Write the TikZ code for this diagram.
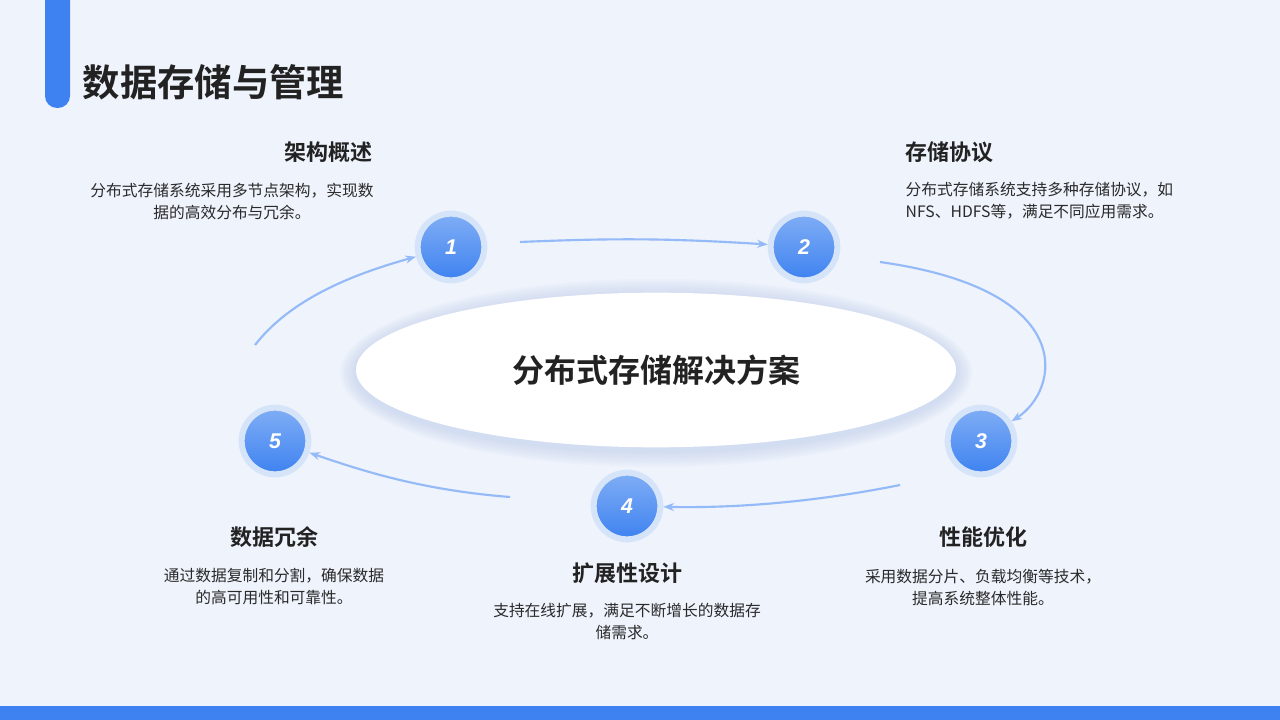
\documentclass[tikz,border=0pt]{standalone}
\usepackage{fontspec}
\setmainfont{Noto Sans CJK SC}
\newfontfamily\cjkb{Noto Sans CJK SC Bold}
\newfontfamily\numf{Liberation Sans}
\usetikzlibrary{arrows.meta,shapes.geometric}
\definecolor{bg}{HTML}{EEF3FC}
\definecolor{blu}{HTML}{3D82F0}
\definecolor{halo}{HTML}{D6E4FA}
\definecolor{tx}{HTML}{222222}
\definecolor{ds}{HTML}{2A2A2A}
\definecolor{shd}{HTML}{B8C8E8}
\begin{document}
\begin{tikzpicture}[x=0.75pt,y=-0.75pt,
  num/.style={circle,minimum size=50pt,inner sep=0pt,text=white,font=\numf\bfseries\itshape\fontsize{16}{16}\selectfont,
    top color=blu!65,bottom color=blu,draw=halo,line width=4.5pt},
  head/.style={font=\cjkb\fontsize{16.5}{18}\selectfont,text=tx},
  desc/.style={font=\fontsize{11.8}{16.5}\selectfont,text=ds,align=center},
  arr/.style={line width=1.6pt,-{Stealth[length=8pt,width=6pt]}}]
\fill[bg] (0,0) rectangle (1280,720);
\useasboundingbox (0,0) rectangle (1280,720);
\fill[blu,rounded corners=9pt] (45,-20) rectangle (70,108);
\fill[blu] (0,706) rectangle (1280,720);
\node[anchor=west,font=\cjkb\fontsize{28}{30}\selectfont,text=tx] (title) at (78,82) {数据存储与管理};
\foreach \i in {1,...,8} {
  \fill[shd,opacity=0.07] (656,373) ellipse ({300+2*\i} and {78+2*\i});
}
\node[ellipse,fill=white,minimum width=450pt,minimum height=116pt,
  font=\cjkb\fontsize{24}{26}\selectfont,text=tx] (c) at (656,370) {分布式存储解决方案};
\node[num] (n1) at (451,247) {1};
\node[num] (n2) at (804,247) {2};
\node[num] (n3) at (981,441) {3};
\node[num] (n4) at (627,506) {4};
\node[num] (n5) at (275,441) {5};
\coordinate (a1) at (520,242);
\coordinate (a2) at (880,262);
\coordinate (a3) at (900,485);
\coordinate (a4) at (510,497);
\coordinate (a5) at (255,345);
\draw[arr,blu!55] (a1) to[bend left=3] (n2);
\draw[arr,blu!55] (a2) .. controls (1080,290) and (1060,390) .. (n3);
\draw[arr,blu!55] (a3) .. controls (800,505) and (720,508) .. (n4);
\draw[arr,blu!55] (a4) .. controls (420,490) and (360,470) .. (n5);
\draw[arr,blu!55] (a5) .. controls (290,300) and (350,275) .. (n1);
\node[head] (h1) at (328,152) {架构概述};
\node[desc] (d1) at (232,201) {分布式存储系统采用多节点架构，实现数\\据的高效分布与冗余。};
\node[head,anchor=west] (h2) at (901,152) {存储协议};
\node[desc,align=left,anchor=west] (d2) at (901,201) {分布式存储系统支持多种存储协议，如\\NFS、HDFS等，满足不同应用需求。};
\node[head] (h3) at (983,537) {性能优化};
\node[desc] (d3) at (983,587) {采用数据分片、负载均衡等技术，\\提高系统整体性能。};
\node[head] (h4) at (627,573) {扩展性设计};
\node[desc] (d4) at (627,621) {支持在线扩展，满足不断增长的数据存\\储需求。};
\node[head] (h5) at (274,537) {数据冗余};
\node[desc] (d5) at (274,587) {通过数据复制和分割，确保数据\\的高可用性和可靠性。};
\end{tikzpicture}
\end{document}
